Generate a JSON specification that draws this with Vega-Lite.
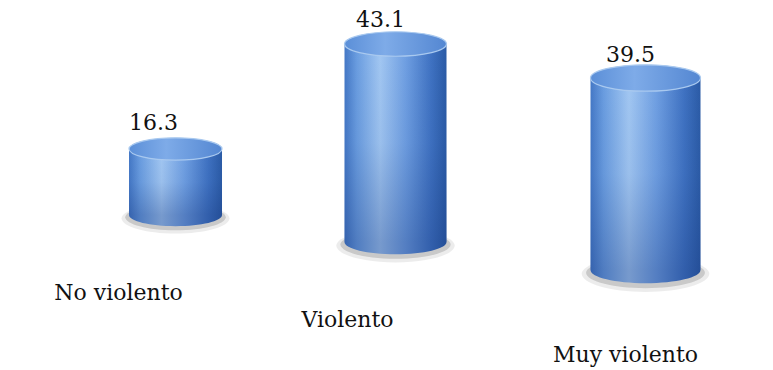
{
  "$schema": "https://vega.github.io/schema/vega-lite/v6.json",
  "width": 773,
  "height": 370,
  "autosize": "none",
  "padding": 0,
  "background": "#ffffff",
  "config": {"view": {"stroke": null}},
  "data": {"values": [
    {"categoria": "No violento", "porcentaje": 16.3},
    {"categoria": "Violento", "porcentaje": 43.1},
    {"categoria": "Muy violento", "porcentaje": 39.5}
  ]},
  "encoding": {
    "x": {"field": "categoria", "type": "nominal", "axis": null,
      "scale": {"domain": ["No violento", "Violento", "Muy violento"], "paddingInner": 0, "paddingOuter": 0.1447, "align": 0.853}}
  },
  "layer": [
    {
      "transform": [{"filter": "datum.categoria === 'No violento'"}],
      "encoding": {"y": {"field": "porcentaje", "type": "quantitative", "axis": null, "scale": {"domain": [-38.28, 53.10], "zero": false, "nice": false}}},
      "layer": [
        {"mark": {"type": "point", "shape": "M -1.16 0.07 C -1.16 -0.1 -0.64 -0.25 0 -0.25 C 0.64 -0.25 1.16 -0.1 1.16 0.07 C 1.16 0.25 0.64 0.4 0 0.4 C -0.64 0.4 -1.16 0.25 -1.16 0.07 Z", "size": 8649, "filled": true, "fill": "#808080", "opacity": 0.15, "strokeWidth": 0}, "encoding": {"y": {"datum": 0}}},
        {"mark": {"type": "point", "shape": "M -1.08 0.05 C -1.08 -0.1 -0.6 -0.22 0 -0.22 C 0.6 -0.22 1.08 -0.1 1.08 0.05 C 1.08 0.2 0.6 0.33 0 0.33 C -0.6 0.33 -1.08 0.2 -1.08 0.05 Z", "size": 8649, "filled": true, "fill": "#606060", "opacity": 0.25, "strokeWidth": 0}, "encoding": {"y": {"datum": 0}}},
        {"mark": {"type": "point", "shape": "M -1 0 L 1 0 C 1 0.1326 0.5523 0.24 0 0.24 C -0.5523 0.24 -1 0.1326 -1 0 Z", "size": 8649, "filled": true, "opacity": 1, "strokeWidth": 0,
          "fill": {"gradient": "linear", "x1": 0, "x2": 1, "y1": 0, "y2": 0, "stops": [{"offset": 0, "color": "#3563af"}, {"offset": 0.12, "color": "#507dc1"}, {"offset": 0.35, "color": "#779acd"}, {"offset": 0.6, "color": "#547ec2"}, {"offset": 0.85, "color": "#325fac"}, {"offset": 1, "color": "#244f98"}]}}, "encoding": {"y": {"datum": 0}}},
        {"mark": {"type": "bar", "size": 93,
          "fill": {"gradient": "linear", "x1": 0, "x2": 1, "y1": 0, "y2": 0, "stops": [{"offset": 0, "color": "#4478c6"}, {"offset": 0.12, "color": "#6a9de0"}, {"offset": 0.35, "color": "#a2c7f2"}, {"offset": 0.6, "color": "#6f9fe2"}, {"offset": 0.85, "color": "#3f72c2"}, {"offset": 1, "color": "#2b5ba6"}]}}, "encoding": {"y2": {"datum": 0}}},
        {"mark": {"type": "bar", "size": 93,
          "fill": {"gradient": "linear", "x1": 0, "x2": 0, "y1": 0, "y2": 1, "stops": [{"offset": 0, "color": "rgba(20,50,120,0)"}, {"offset": 0.5, "color": "rgba(20,50,120,0.05)"}, {"offset": 1, "color": "rgba(20,50,120,0.3)"}]}}, "encoding": {"y2": {"datum": 0}}},
        {"mark": {"type": "point", "shape": "M -1 0 C -1 -0.1326 -0.5523 -0.24 0 -0.24 C 0.5523 -0.24 1 -0.1326 1 0 C 1 0.1326 0.5523 0.24 0 0.24 C -0.5523 0.24 -1 0.1326 -1 0 Z", "size": 8649, "filled": true, "opacity": 1, "stroke": "#a9c9ef", "strokeWidth": 1.2,
          "fill": {"gradient": "linear", "x1": 0, "x2": 1, "y1": 0, "y2": 0, "stops": [{"offset": 0, "color": "#5b8fd8"}, {"offset": 0.4, "color": "#7eabe8"}, {"offset": 1, "color": "#5487d2"}]}}},
        {"mark": {"type": "text", "font": "DejaVu Serif", "fontSize": 22, "color": "#111111", "dx": -22, "dy": -26, "baseline": "middle"}, "encoding": {"text": {"field": "porcentaje", "type": "quantitative", "format": ".1f"}}},
        {"mark": {"type": "text", "font": "DejaVu Serif", "fontSize": 22, "color": "#111111", "dx": -57, "dy": 78, "baseline": "middle"}, "encoding": {"y": {"datum": 0}, "text": {"field": "categoria", "type": "nominal"}}}
      ]
    },
    {
      "transform": [{"filter": "datum.categoria === 'Violento'"}],
      "encoding": {"y": {"field": "porcentaje", "type": "quantitative", "axis": null, "scale": {"domain": [-27.86, 52.68], "zero": false, "nice": false}}},
      "layer": [
        {"mark": {"type": "point", "xOffset": -15, "shape": "M -1.16 0.07 C -1.16 -0.1 -0.64 -0.25 0 -0.25 C 0.64 -0.25 1.16 -0.1 1.16 0.07 C 1.16 0.25 0.64 0.4 0 0.4 C -0.64 0.4 -1.16 0.25 -1.16 0.07 Z", "size": 10404, "filled": true, "fill": "#808080", "opacity": 0.15, "strokeWidth": 0}, "encoding": {"y": {"datum": 0}}},
        {"mark": {"type": "point", "xOffset": -15, "shape": "M -1.08 0.05 C -1.08 -0.1 -0.6 -0.22 0 -0.22 C 0.6 -0.22 1.08 -0.1 1.08 0.05 C 1.08 0.2 0.6 0.33 0 0.33 C -0.6 0.33 -1.08 0.2 -1.08 0.05 Z", "size": 10404, "filled": true, "fill": "#606060", "opacity": 0.25, "strokeWidth": 0}, "encoding": {"y": {"datum": 0}}},
        {"mark": {"type": "point", "xOffset": -15, "shape": "M -1 0 L 1 0 C 1 0.1326 0.5523 0.24 0 0.24 C -0.5523 0.24 -1 0.1326 -1 0 Z", "size": 10404, "filled": true, "opacity": 1, "strokeWidth": 0,
          "fill": {"gradient": "linear", "x1": 0, "x2": 1, "y1": 0, "y2": 0, "stops": [{"offset": 0, "color": "#3563af"}, {"offset": 0.12, "color": "#507dc1"}, {"offset": 0.35, "color": "#779acd"}, {"offset": 0.6, "color": "#547ec2"}, {"offset": 0.85, "color": "#325fac"}, {"offset": 1, "color": "#244f98"}]}}, "encoding": {"y": {"datum": 0}}},
        {"mark": {"type": "bar", "xOffset": -15, "size": 102,
          "fill": {"gradient": "linear", "x1": 0, "x2": 1, "y1": 0, "y2": 0, "stops": [{"offset": 0, "color": "#4478c6"}, {"offset": 0.12, "color": "#6a9de0"}, {"offset": 0.35, "color": "#a2c7f2"}, {"offset": 0.6, "color": "#6f9fe2"}, {"offset": 0.85, "color": "#3f72c2"}, {"offset": 1, "color": "#2b5ba6"}]}}, "encoding": {"y2": {"datum": 0}}},
        {"mark": {"type": "bar", "xOffset": -15, "size": 102,
          "fill": {"gradient": "linear", "x1": 0, "x2": 0, "y1": 0, "y2": 1, "stops": [{"offset": 0, "color": "rgba(20,50,120,0)"}, {"offset": 0.5, "color": "rgba(20,50,120,0.05)"}, {"offset": 1, "color": "rgba(20,50,120,0.3)"}]}}, "encoding": {"y2": {"datum": 0}}},
        {"mark": {"type": "point", "xOffset": -15, "shape": "M -1 0 C -1 -0.1326 -0.5523 -0.24 0 -0.24 C 0.5523 -0.24 1 -0.1326 1 0 C 1 0.1326 0.5523 0.24 0 0.24 C -0.5523 0.24 -1 0.1326 -1 0 Z", "size": 10404, "filled": true, "opacity": 1, "stroke": "#a9c9ef", "strokeWidth": 1.2,
          "fill": {"gradient": "linear", "x1": 0, "x2": 1, "y1": 0, "y2": 0, "stops": [{"offset": 0, "color": "#5b8fd8"}, {"offset": 0.4, "color": "#7eabe8"}, {"offset": 1, "color": "#5487d2"}]}}},
        {"mark": {"type": "text", "font": "DejaVu Serif", "fontSize": 22, "color": "#111111", "dx": -30, "dy": -24, "baseline": "middle"}, "encoding": {"text": {"field": "porcentaje", "type": "quantitative", "format": ".1f"}}},
        {"mark": {"type": "text", "font": "DejaVu Serif", "fontSize": 22, "color": "#111111", "dx": -63, "dy": 78, "baseline": "middle"}, "encoding": {"y": {"datum": 0}, "text": {"field": "categoria", "type": "nominal"}}}
      ]
    },
    {
      "transform": [{"filter": "datum.categoria === 'Muy violento'"}],
      "encoding": {"y": {"field": "porcentaje", "type": "quantitative", "axis": null, "scale": {"domain": [-20.57, 55.55], "zero": false, "nice": false}}},
      "layer": [
        {"mark": {"type": "point", "shape": "M -1.16 0.07 C -1.16 -0.1 -0.64 -0.25 0 -0.25 C 0.64 -0.25 1.16 -0.1 1.16 0.07 C 1.16 0.25 0.64 0.4 0 0.4 C -0.64 0.4 -1.16 0.25 -1.16 0.07 Z", "size": 12100, "filled": true, "fill": "#808080", "opacity": 0.15, "strokeWidth": 0}, "encoding": {"y": {"datum": 0}}},
        {"mark": {"type": "point", "shape": "M -1.08 0.05 C -1.08 -0.1 -0.6 -0.22 0 -0.22 C 0.6 -0.22 1.08 -0.1 1.08 0.05 C 1.08 0.2 0.6 0.33 0 0.33 C -0.6 0.33 -1.08 0.2 -1.08 0.05 Z", "size": 12100, "filled": true, "fill": "#606060", "opacity": 0.25, "strokeWidth": 0}, "encoding": {"y": {"datum": 0}}},
        {"mark": {"type": "point", "shape": "M -1 0 L 1 0 C 1 0.1326 0.5523 0.24 0 0.24 C -0.5523 0.24 -1 0.1326 -1 0 Z", "size": 12100, "filled": true, "opacity": 1, "strokeWidth": 0,
          "fill": {"gradient": "linear", "x1": 0, "x2": 1, "y1": 0, "y2": 0, "stops": [{"offset": 0, "color": "#3563af"}, {"offset": 0.12, "color": "#507dc1"}, {"offset": 0.35, "color": "#779acd"}, {"offset": 0.6, "color": "#547ec2"}, {"offset": 0.85, "color": "#325fac"}, {"offset": 1, "color": "#244f98"}]}}, "encoding": {"y": {"datum": 0}}},
        {"mark": {"type": "bar", "size": 110,
          "fill": {"gradient": "linear", "x1": 0, "x2": 1, "y1": 0, "y2": 0, "stops": [{"offset": 0, "color": "#4478c6"}, {"offset": 0.12, "color": "#6a9de0"}, {"offset": 0.35, "color": "#a2c7f2"}, {"offset": 0.6, "color": "#6f9fe2"}, {"offset": 0.85, "color": "#3f72c2"}, {"offset": 1, "color": "#2b5ba6"}]}}, "encoding": {"y2": {"datum": 0}}},
        {"mark": {"type": "bar", "size": 110,
          "fill": {"gradient": "linear", "x1": 0, "x2": 0, "y1": 0, "y2": 1, "stops": [{"offset": 0, "color": "rgba(20,50,120,0)"}, {"offset": 0.5, "color": "rgba(20,50,120,0.05)"}, {"offset": 1, "color": "rgba(20,50,120,0.3)"}]}}, "encoding": {"y2": {"datum": 0}}},
        {"mark": {"type": "point", "shape": "M -1 0 C -1 -0.1326 -0.5523 -0.24 0 -0.24 C 0.5523 -0.24 1 -0.1326 1 0 C 1 0.1326 0.5523 0.24 0 0.24 C -0.5523 0.24 -1 0.1326 -1 0 Z", "size": 12100, "filled": true, "opacity": 1, "stroke": "#a9c9ef", "strokeWidth": 1.2,
          "fill": {"gradient": "linear", "x1": 0, "x2": 1, "y1": 0, "y2": 0, "stops": [{"offset": 0, "color": "#5b8fd8"}, {"offset": 0.4, "color": "#7eabe8"}, {"offset": 1, "color": "#5487d2"}]}}},
        {"mark": {"type": "text", "font": "DejaVu Serif", "fontSize": 22, "color": "#111111", "dx": -15, "dy": -23, "baseline": "middle"}, "encoding": {"text": {"field": "porcentaje", "type": "quantitative", "format": ".1f"}}},
        {"mark": {"type": "text", "font": "DejaVu Serif", "fontSize": 22, "color": "#111111", "dx": -20, "dy": 85, "baseline": "middle"}, "encoding": {"y": {"datum": 0}, "text": {"field": "categoria", "type": "nominal"}}}
      ]
    }
  ],
  "resolve": {"scale": {"y": "independent"}}
}
